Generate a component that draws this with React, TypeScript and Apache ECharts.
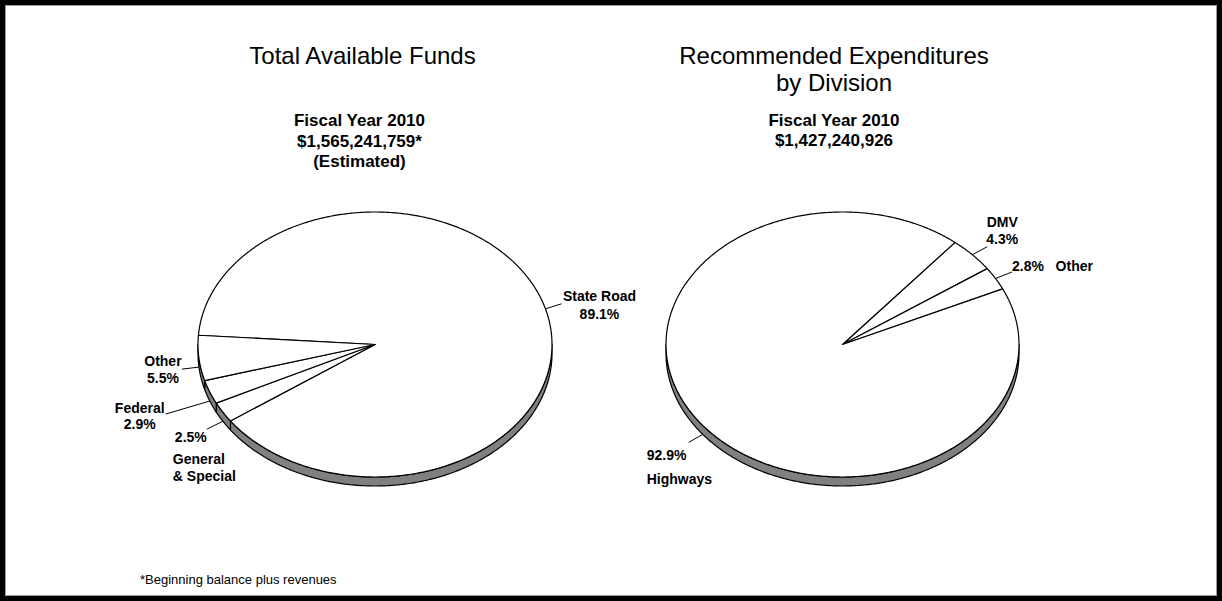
import React, { useEffect, useRef } from 'react';
import * as echarts from 'echarts';

// ---------- data ----------
const fundCategories = ['State Road', 'General & Special', 'Federal', 'Other'];
const fundValues = [89.1, 2.5, 2.9, 5.5];
const expCategories = ['DMV', 'Other', 'Highways'];
const expValues = [4.3, 2.8, 92.9];

const leftTitle = 'Total Available Funds';
const leftSubtitle = ['Fiscal Year 2010', '$1,565,241,759*', '(Estimated)'];
const rightTitle = ['Recommended Expenditures', 'by Division'];
const rightSubtitle = ['Fiscal Year 2010', '$1,427,240,926'];
const footnote = '*Beginning balance plus revenues';

// ---------- layout / style ----------
const FONT = '"Liberation Sans", Arial, Helvetica, sans-serif';

type Part = { fmt: string; dx: number; dy: number; align: string; lh?: number };
type Layout = { leader: [number, number]; parts: Part[] };

const fundLayouts: Layout[] = [
  { leader: [16, -5], parts: [{ fmt: '{n}\n{p}', dx: 54, dy: -4, align: 'center', lh: 18 }] },
  {
    leader: [-16, 8],
    parts: [
      { fmt: '{p}', dx: -48, dy: 16, align: 'left' },
      { fmt: '{n}', dx: -50, dy: 46.5, align: 'left', lh: 17 },
    ],
  },
  { leader: [-44, 13], parts: [{ fmt: '{n}\n{p}', dx: -70, dy: 15, align: 'center', lh: 16 }] },
  { leader: [-17, 2], parts: [{ fmt: '{n}\n{p}', dx: -36, dy: 2.5, align: 'center', lh: 17 }] },
];
const expLayouts: Layout[] = [
  { leader: [15, -8], parts: [{ fmt: '{n}\n{p}', dx: 30, dy: -24, align: 'center', lh: 17 }] },
  { leader: [16.5, -6.5], parts: [{ fmt: '{p}   {n}', dx: 16.5, dy: -12.5, align: 'left' }] },
  { leader: [-14, 8], parts: [{ fmt: '{p}\n{n}', dx: -56, dy: 32.6, align: 'left', lh: 24 }] },
];

type Geo = { cx: number; cy: number; rx: number; ry: number; depth: number; start: number };
const leftGeo: Geo = { cx: 375, cy: 344.5, rx: 177, ry: 132.5, depth: 9, start: 536 };
const rightGeo: Geo = { cx: 842.5, cy: 344.5, rx: 176.5, ry: 132.5, depth: 9, start: 50.4 };

function makeRender(values: number[], names: string[], layouts: Layout[], geo: Geo) {
  const total = values.reduce((a, b) => a + b, 0);
  const rad = (d: number) => (d * Math.PI) / 180;
  const pt = (deg: number, dz = 0) => [
    geo.cx + geo.rx * Math.cos(rad(deg)),
    geo.cy - geo.ry * Math.sin(rad(deg)) + dz,
  ];
  const arc = (s: number, e: number, dz: number) => {
    const n = Math.max(2, Math.ceil(Math.abs(e - s) / 0.5));
    const out: number[][] = [];
    for (let j = 0; j <= n; j++) out.push(pt(s + ((e - s) * j) / n, dz));
    return out;
  };
  return (params: any, api: any) => {
    const i = params.dataIndex;
    const v = api.value(0);
    let before = 0;
    for (let k = 0; k < i; k++) before += values[k];
    const hi = geo.start - (before / total) * 360;
    const lo = hi - (v / total) * 360;
    const children: any[] = [];
    for (let k = -2; k <= 2; k++) {
      const bs = 180 + 360 * k;
      const be = 360 + 360 * k;
      const s = Math.max(lo, bs);
      const e = Math.min(hi, be);
      if (e - s > 0.01) {
        const top = arc(s, e, 0);
        const bot = arc(e, s, geo.depth);
        children.push({
          type: 'polygon',
          shape: { points: top.concat(bot) },
          style: { fill: '#808080', stroke: '#000', lineWidth: 1.2, lineJoin: 'round' },
        });
      }
    }
    children.push({
      type: 'polygon',
      shape: { points: [[geo.cx, geo.cy]].concat(arc(hi, lo, 0)) },
      style: { fill: '#fff', stroke: '#000', lineWidth: 1.2, lineJoin: 'round' },
    });
    const mid = (lo + hi) / 2;
    const m = pt(mid, Math.sin(rad(mid)) < 0 ? geo.depth : 0);
    const lay = layouts[i];
    children.push({
      type: 'line',
      shape: { x1: m[0], y1: m[1], x2: m[0] + lay.leader[0], y2: m[1] + lay.leader[1] },
      style: { stroke: '#000', lineWidth: 1 },
    });
    const name = names[i];
    const pct = v.toFixed(1) + '%';
    lay.parts.forEach((p) => {
      const isSplit = p.fmt === '{n}' && name.indexOf(' & ') >= 0;
      const txt = isSplit ? name.replace(' & ', '\n& ') : p.fmt.replace('{n}', name).replace('{p}', pct);
      children.push({
        type: 'text',
        style: {
          text: txt,
          x: m[0] + p.dx,
          y: m[1] + p.dy,
          fill: '#000',
          fontSize: 14,
          fontWeight: 'bold',
          fontFamily: FONT,
          align: p.align,
          verticalAlign: 'middle',
          lineHeight: p.lh || 17,
        },
      });
    });
    return { type: 'group', children };
  };
}

export default function App() {
  const ref = useRef<HTMLDivElement>(null);
  useEffect(() => {
    if (!ref.current) return;
    const chart = echarts.init(ref.current, undefined, { renderer: 'svg' });
    chart.setOption({
      animation: false,
      backgroundColor: '#fff',
      graphic: [
        {
          type: 'rect',
          shape: { x: 2.5, y: 2.5, width: 1217, height: 596 },
          style: { fill: 'none', stroke: '#000', lineWidth: 5 },
          z: 10,
        },
        {
          type: 'rect',
          shape: { x: 5.5, y: 5.5, width: 1211, height: 590 },
          style: { fill: 'none', stroke: '#999', lineWidth: 1 },
          z: 9,
        },
        {
          type: 'text',
          style: {
            text: leftTitle, x: 362.5, y: 55, fill: '#000', fontSize: 24, fontFamily: FONT,
            align: 'center', verticalAlign: 'middle',
          },
        },
        {
          type: 'text',
          style: {
            text: leftSubtitle.join('\n'), x: 359.5, y: 141, fill: '#000', fontSize: 17, fontWeight: 'bold',
            fontFamily: FONT, align: 'center', verticalAlign: 'middle', lineHeight: 20.5,
          },
        },
        {
          type: 'text',
          style: {
            text: rightTitle.join('\n'), x: 834, y: 68.5, fill: '#000', fontSize: 24, fontFamily: FONT,
            align: 'center', verticalAlign: 'middle', lineHeight: 27,
          },
        },
        {
          type: 'text',
          style: {
            text: rightSubtitle.join('\n'), x: 834, y: 130.5, fill: '#000', fontSize: 17, fontWeight: 'bold',
            fontFamily: FONT, align: 'center', verticalAlign: 'middle', lineHeight: 20.5,
          },
        },
        {
          type: 'text',
          style: {
            text: footnote, x: 140, y: 579, fill: '#000', fontSize: 13, fontFamily: FONT,
            align: 'left', verticalAlign: 'middle',
          },
        },
      ],
      series: [
        {
          type: 'custom',
          coordinateSystem: 'none',
          silent: true,
          renderItem: makeRender(fundValues, fundCategories, fundLayouts, leftGeo),
          data: fundValues.map((v, i) => ({ name: fundCategories[i], value: v })),
        },
        {
          type: 'custom',
          coordinateSystem: 'none',
          silent: true,
          renderItem: makeRender(expValues, expCategories, expLayouts, rightGeo),
          data: expValues.map((v, i) => ({ name: expCategories[i], value: v })),
        },
      ],
    });
    return () => chart.dispose();
  }, []);
  return (
    <div
      ref={ref}
      style={{ position: 'absolute', left: 0, top: 0, width: 1222, height: 601, background: '#fff' }}
    />
  );
}
